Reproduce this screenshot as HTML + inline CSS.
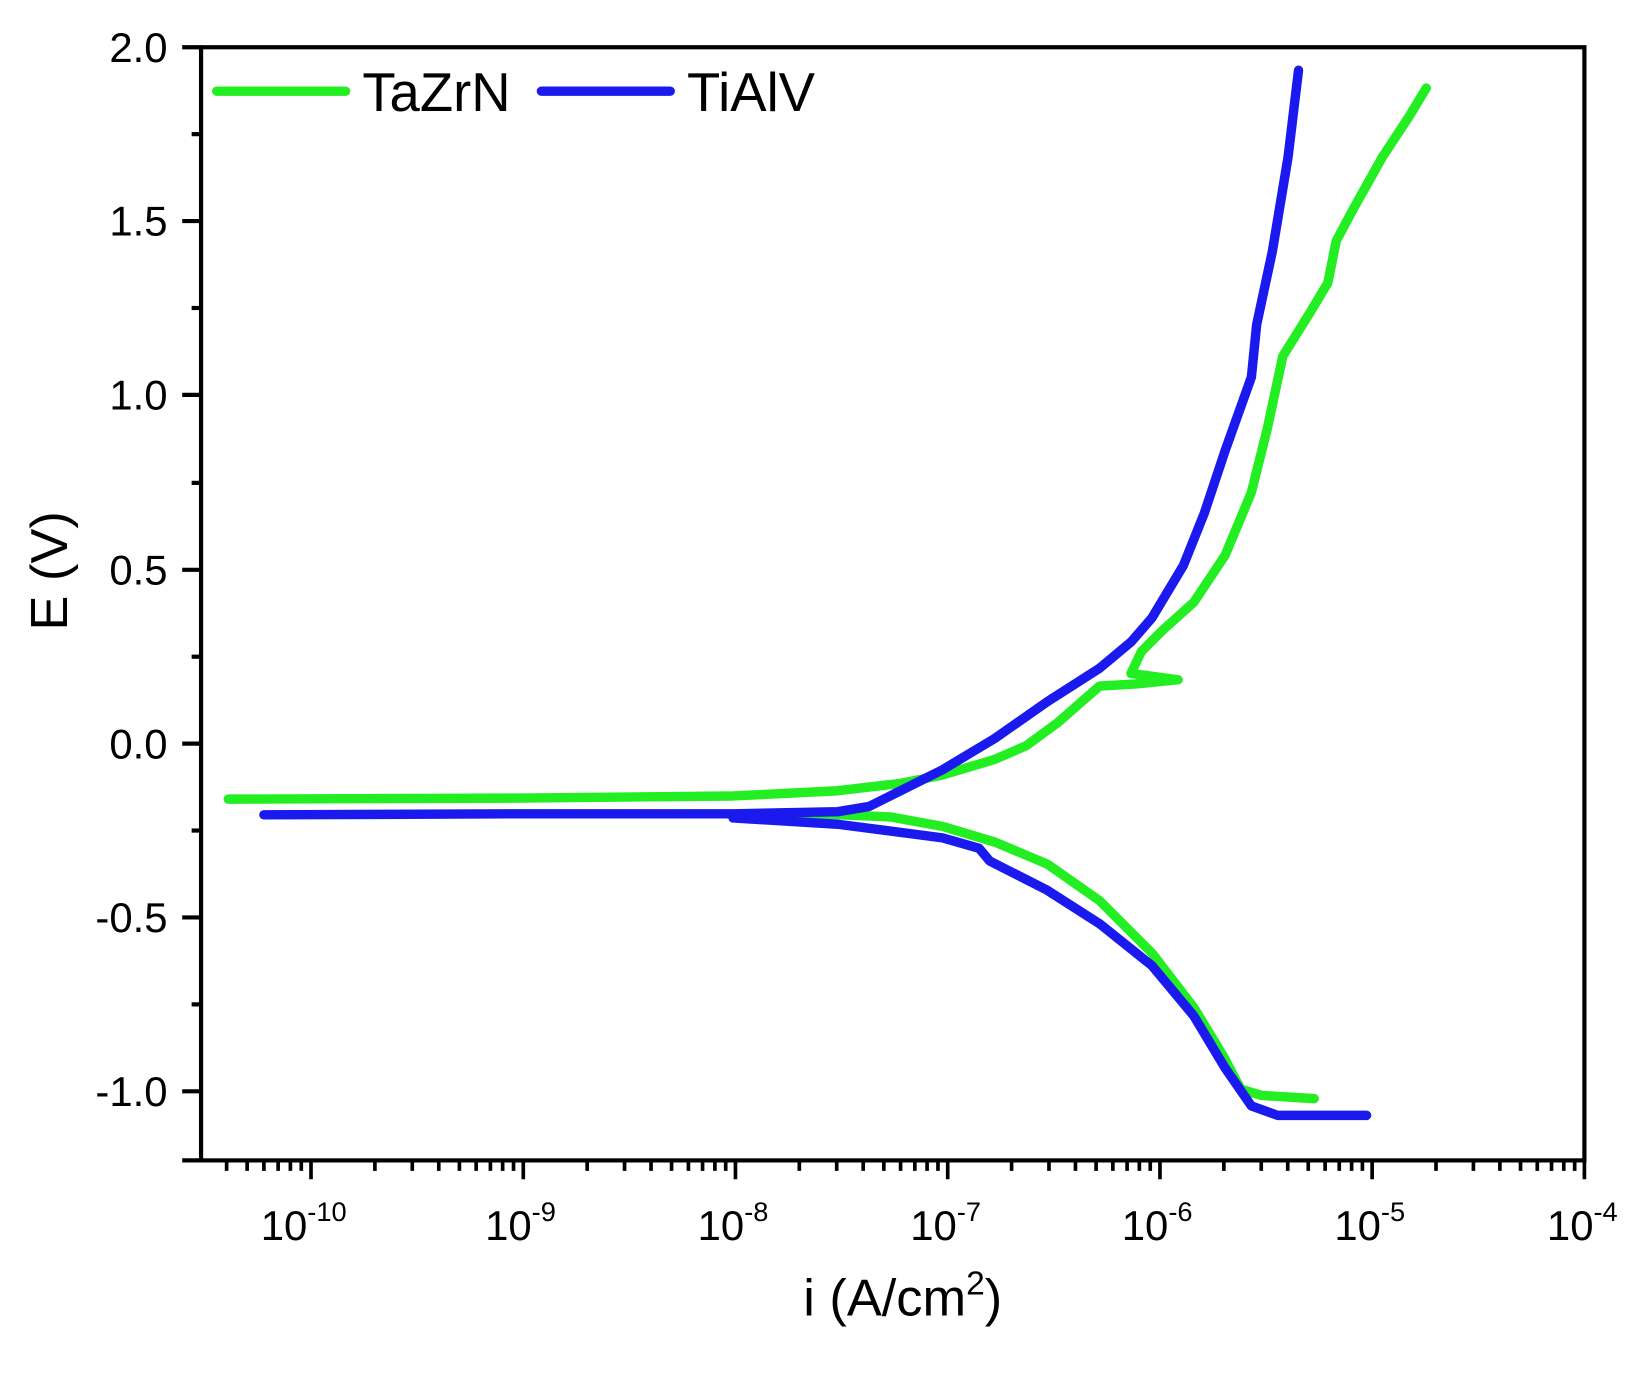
<!DOCTYPE html>
<html><head><style>html,body{margin:0;padding:0;background:#fff}</style></head><body>
<svg width="1642" height="1371" viewBox="0 0 1568 1309" xmlns="http://www.w3.org/2000/svg" font-family="Liberation Sans, Arial, sans-serif">
<rect width="1568" height="1309" fill="#fff"/>
<rect x="192" y="45" width="1321" height="1063" fill="none" stroke="#000" stroke-width="4"/>
<g stroke="#000" stroke-width="4">
<line x1="192" y1="45" x2="174" y2="45"/><line x1="192" y1="211" x2="174" y2="211"/><line x1="192" y1="377" x2="174" y2="377"/><line x1="192" y1="544" x2="174" y2="544"/><line x1="192" y1="710" x2="174" y2="710"/><line x1="192" y1="876" x2="174" y2="876"/><line x1="192" y1="1042" x2="174" y2="1042"/>
<line x1="192" y1="128" x2="183" y2="128"/><line x1="192" y1="294" x2="183" y2="294"/><line x1="192" y1="461" x2="183" y2="461"/><line x1="192" y1="627" x2="183" y2="627"/><line x1="192" y1="793" x2="183" y2="793"/><line x1="192" y1="959" x2="183" y2="959"/><line x1="192" y1="1108" x2="174" y2="1108"/>
</g>
<path stroke="#000" stroke-width="3.5" fill="none" d="
M216.4,1108v10M236,1108v10M252,1108v10M265.6,1108v10M277.3,1108v10M287.7,1108v10M297,1108v18
M358,1108v10M393.7,1108v10M419,1108v10M438.7,1108v10M454.7,1108v10M468.3,1108v10M480,1108v10M490.4,1108v10M499.7,1108v18
M560.7,1108v10M596.4,1108v10M621.7,1108v10M641.3,1108v10M657.4,1108v10M670.9,1108v10M682.7,1108v10M693,1108v10M702.3,1108v18
M763.3,1108v10M799,1108v10M824.3,1108v10M844,1108v10M860,1108v10M873.6,1108v10M885.3,1108v10M895.7,1108v10M905,1108v18
M966,1108v10M1001.7,1108v10M1027,1108v10M1046.7,1108v10M1062.7,1108v10M1076.3,1108v10M1088,1108v10M1098.4,1108v10M1107.7,1108v18
M1168.7,1108v10M1204.4,1108v10M1229.7,1108v10M1249.3,1108v10M1265.4,1108v10M1278.9,1108v10M1290.7,1108v10M1301,1108v10M1310.3,1108v18
M1371.3,1108v10M1407,1108v10M1432.3,1108v10M1452,1108v10M1468,1108v10M1481.6,1108v10M1493.3,1108v10M1503.7,1108v10M1513,1108v18"/>
<g font-size="40" text-anchor="end" fill="#000">
<text x="160" y="59">2.0</text><text x="160" y="225">1.5</text><text x="160" y="391">1.0</text><text x="160" y="558">0.5</text><text x="160" y="724">0.0</text><text x="160" y="890">-0.5</text><text x="160" y="1056">-1.0</text>
</g>
<g font-size="40" text-anchor="middle" fill="#000">
<text x="290" y="1184">10<tspan font-size="26" dy="-18">-10</tspan></text>
<text x="497" y="1184">10<tspan font-size="26" dy="-18">-9</tspan></text>
<text x="700" y="1184">10<tspan font-size="26" dy="-18">-8</tspan></text>
<text x="903" y="1184">10<tspan font-size="26" dy="-18">-7</tspan></text>
<text x="1105" y="1184">10<tspan font-size="26" dy="-18">-6</tspan></text>
<text x="1308" y="1184">10<tspan font-size="26" dy="-18">-5</tspan></text>
<text x="1511" y="1184">10<tspan font-size="26" dy="-18">-4</tspan></text>
</g>
<text x="862" y="1256" font-size="50" text-anchor="middle">i (A/cm<tspan font-size="32" dy="-20">2</tspan><tspan dy="20">)</tspan></text>
<text transform="translate(64,545) rotate(-90)" font-size="50" text-anchor="middle">E (V)</text>
<g fill="none" stroke-width="9" stroke-linecap="round" stroke-linejoin="round">
<polyline stroke="#22ee22" points="218,763 500,762 700,760 800,755 860,748 900,740 950,725 980,712 1010,690 1050,655 1085,653 1125,649 1080,643 1090,622 1110,602 1140,575 1170,530 1195,470 1210,410 1225,340 1250,300 1268,270 1276,230 1292,200 1320,150 1345,112 1362,84"/>
<polyline stroke="#22ee22" points="760,776 850,780 900,789 950,804 1000,825 1050,860 1100,910 1140,962 1168,1008 1185,1040 1205,1046 1255,1049"/>
<polyline stroke="#1a1aee" points="252,778 500,777 700,777 800,775 830,770 860,755 880,745 900,735 950,705 1000,670 1050,638 1080,613 1100,590 1130,540 1150,490 1170,430 1195,360 1200,310 1215,240 1230,150 1240,67"/>
<polyline stroke="#1a1aee" points="700,781 800,787 900,800 935,810 945,822 1000,850 1050,882 1100,922 1140,970 1170,1020 1195,1056 1220,1065 1305,1065"/>
<line stroke="#22ee22" x1="207" y1="87" x2="330" y2="87"/>
<line stroke="#1a1aee" x1="517" y1="87" x2="640" y2="87"/>
</g>
<text x="346" y="106" font-size="52">TaZrN</text>
<text x="656" y="106" font-size="52">TiAlV</text>
</svg>
</body></html>
